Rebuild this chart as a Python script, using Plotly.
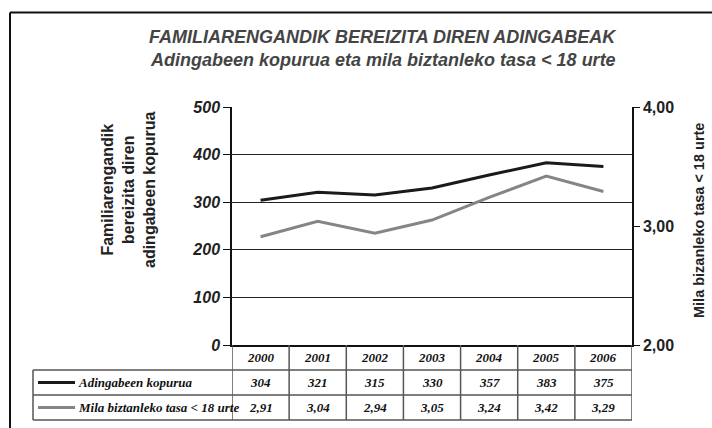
import plotly.graph_objects as go

######## data
years = ["2000", "2001", "2002", "2003", "2004", "2005", "2006"]
kopurua = [304, 321, 315, 330, 357, 383, 375]
tasa = [2.91, 3.04, 2.94, 3.05, 3.24, 3.42, 3.29]
series_names = ["Adingabeen kopurua", "Mila biztanleko tasa < 18 urte"]
series_colors = ["#1a1a1a", "#858585"]
##############################

W, H = 712, 428
def py(pix):  # pixel row -> paper y
    return 1 - pix / H
def px(pix):
    return pix / W

idx = list(range(len(years)))
sans = "Liberation Sans, Arial, sans-serif"
serif = "Liberation Serif, Times New Roman, serif"

fig = go.Figure()
fig.add_trace(go.Scatter(x=idx, y=kopurua, mode="lines", name=series_names[0],
                         line=dict(color=series_colors[0], width=3)))
fig.add_trace(go.Scatter(x=idx, y=tasa, mode="lines", name=series_names[1], yaxis="y2",
                         line=dict(color=series_colors[1], width=3)))

fig.update_layout(
    width=W, height=H, autosize=False,
    margin=dict(l=0, r=0, t=0, b=0, pad=0, autoexpand=False),
    plot_bgcolor="white", paper_bgcolor="white",
    showlegend=False, separators=",.",
    xaxis=dict(domain=[px(232), px(632)], range=[-0.5, len(years) - 0.5], automargin=False,
               showticklabels=False, showgrid=False, zeroline=False,
               showline=True, linecolor="#111", linewidth=1.5, ticks=""),
    yaxis=dict(domain=[py(345), py(107)], range=[0, 500], dtick=100, automargin=False,
               showgrid=True, gridcolor="#222", gridwidth=1.2, zeroline=False,
               showline=True, linecolor="#111", linewidth=1.5,
               ticks="outside", ticklen=7, tickcolor="#111",
               tickfont=dict(family=sans, size=16, color="#222", weight="bold", style="italic")),
    yaxis2=dict(overlaying="y", side="right", range=[2, 4], dtick=1, tickformat=".2f",
                automargin=False, showgrid=False, zeroline=False,
                showline=True, linecolor="#111", linewidth=1.5,
                ticks="outside", ticklen=6, tickcolor="#111",
                tickfont=dict(family=sans, size=16, color="#222", weight="bold")),
)

def label(text, x, y, xref="paper", font=None, **kw):
    kw.setdefault("xanchor", "center")
    fig.add_annotation(text=text, x=x, y=y, xref=xref, yref="paper", showarrow=False,
                       yanchor="middle", font=font, **kw)

# titles
title_font = dict(family=sans, size=18, color="#444")
label("<b><i>FAMILIARENGANDIK BEREIZITA DIREN ADINGABEAK</i></b>", px(383), py(37), font=title_font)
label("<b><i>Adingabeen kopurua eta mila biztanleko tasa < 18 urte</i></b>", px(383), py(60), font=title_font)
label("<b>Familiarengandik<br>bereizita diren<br>adingabeen kopurua</b>", px(128), py(190),
      font=dict(family=sans, size=16, color="#222"), textangle=-90)
label("<b>Mila bizanleko tasa < 18 urte</b>", px(699), py(221),
      font=dict(family=sans, size=14.5, color="#222"), textangle=-90)

# outer frame
line_k = dict(color="#111", width=2)
fig.add_shape(type="line", xref="paper", yref="paper", x0=px(10), x1=1, y0=py(12.5), y1=py(12.5), line=line_k)
fig.add_shape(type="line", xref="paper", yref="paper", x0=px(10), x1=px(10), y0=py(12.5), y1=0, line=line_k)

# data table
tline = dict(color="#555", width=1.5)
rows_y = [345, 370, 395, 420]
for r in rows_y[1:]:
    fig.add_shape(type="line", xref="paper", yref="paper", x0=px(33), x1=px(632),
                  y0=py(r), y1=py(r), line=tline)
fig.add_shape(type="line", xref="paper", yref="paper", x0=px(33), x1=px(33),
              y0=py(370), y1=py(420), line=tline)
for i in range(len(years) + 1):
    fig.add_shape(type="line", xref="x", yref="paper", x0=i - 0.5, x1=i - 0.5,
                  y0=py(345), y1=py(420), line=tline)

cell_font = dict(family=serif, size=13, color="#111")
row_vals = [[str(v) for v in kopurua], [f"{v:.2f}".replace(".", ",") for v in tasa]]
for i, yr in enumerate(years):
    label(f"<b><i>{yr}</i></b>", i, py(357.5), xref="x", font=cell_font)
    for k in range(2):
        label(f"<b><i>{row_vals[k][i]}</i></b>", i, py((rows_y[k + 1] + rows_y[k + 2]) / 2),
              xref="x", font=cell_font)
for k in range(2):
    yc = py((rows_y[k + 1] + rows_y[k + 2]) / 2)
    fig.add_shape(type="line", xref="paper", yref="paper", x0=px(38), x1=px(75), y0=yc, y1=yc,
                  line=dict(color=series_colors[k], width=3))
    label(f"<b><i>{series_names[k]}</i></b>", px(76), yc, font=cell_font, xanchor="left")

fig.write_html("out.html", config={"displayModeBar": False},
               post_script="document.body.style.margin='0';")
